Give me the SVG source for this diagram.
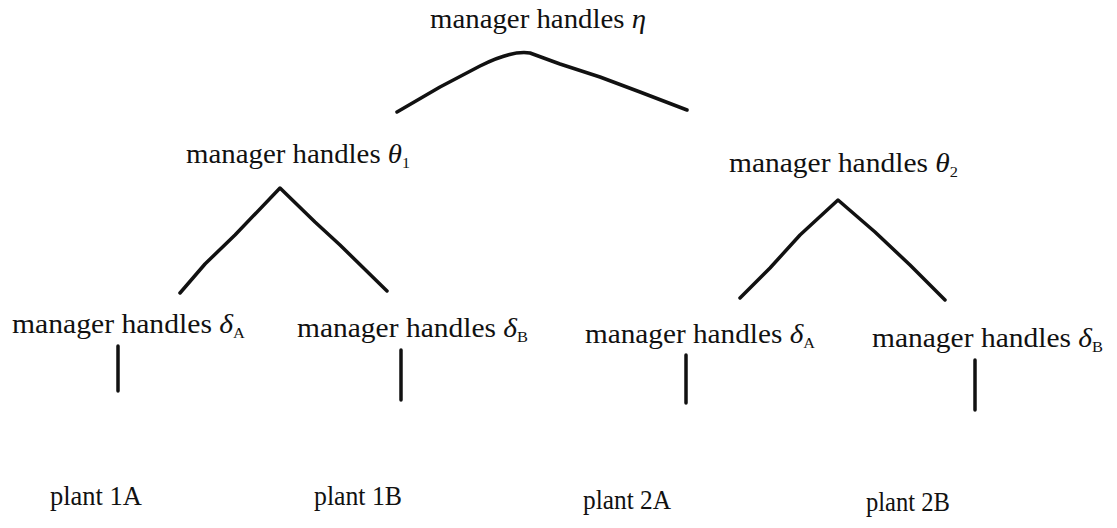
<svg xmlns="http://www.w3.org/2000/svg" width="1117" height="528" viewBox="0 0 1117 528">
  <style>
    .lbl { font-family: "Liberation Serif", "Times New Roman", serif; font-size: 27px; fill: #111; }
    .plant { font-family: "Liberation Serif", "Times New Roman", serif; font-size: 27px; fill: #111; }
    .gr { font-style: italic; }
    .sub { font-size: 15px; }
    .edge { fill: none; stroke: #111; stroke-width: 3.5; stroke-linecap: round; stroke-linejoin: round; }
  </style>
  <rect width="1117" height="528" fill="#fff"/>

  <!-- tree connectors -->
  <g id="connectors">
    <path class="edge" d="M397,112 L440,87 L480,66 Q512,50 530,53 L560,64 L600,77 L640,92 L687,110"/>
    <polyline class="edge" points="180,293 205,264 235,235 280,188 315,222 340,245 387,291"/>
    <polyline class="edge" points="740,298 770,268 800,235 838,200 875,232 910,265 945,300"/>
    <line class="edge" x1="118" y1="346" x2="118" y2="391"/>
    <line class="edge" x1="401" y1="350" x2="401" y2="400"/>
    <line class="edge" x1="686" y1="355" x2="686" y2="403"/>
    <line class="edge" x1="975" y1="360" x2="975" y2="410"/>
  </g>

  <!-- top manager -->
  <g id="mgr-eta">
    <text class="lbl" x="430" y="28" textLength="216" lengthAdjust="spacingAndGlyphs">manager handles <tspan class="gr">η</tspan></text>
  </g>

  <!-- middle managers -->
  <g id="mgr-theta1">
    <text class="lbl" x="186" y="163" textLength="224" lengthAdjust="spacingAndGlyphs">manager handles <tspan class="gr">θ</tspan><tspan class="sub" dy="5">1</tspan></text>
  </g>
  <g id="mgr-theta2">
    <text class="lbl" x="729" y="172" textLength="229" lengthAdjust="spacingAndGlyphs">manager handles <tspan class="gr">θ</tspan><tspan class="sub" dy="5">2</tspan></text>
  </g>

  <!-- lower managers -->
  <g id="mgr-1A">
    <text class="lbl" x="12" y="333" textLength="233" lengthAdjust="spacingAndGlyphs">manager handles <tspan class="gr">δ</tspan><tspan class="sub" dy="5">A</tspan></text>
  </g>
  <g id="mgr-1B">
    <text class="lbl" x="297" y="337" textLength="231" lengthAdjust="spacingAndGlyphs">manager handles <tspan class="gr">δ</tspan><tspan class="sub" dy="5">B</tspan></text>
  </g>
  <g id="mgr-2A">
    <text class="lbl" x="585" y="343" textLength="230" lengthAdjust="spacingAndGlyphs">manager handles <tspan class="gr">δ</tspan><tspan class="sub" dy="5">A</tspan></text>
  </g>
  <g id="mgr-2B">
    <text class="lbl" x="872" y="347" textLength="231" lengthAdjust="spacingAndGlyphs">manager handles <tspan class="gr">δ</tspan><tspan class="sub" dy="5">B</tspan></text>
  </g>

  <!-- plants -->
  <g id="plant-1A"><text class="plant" x="50" y="505" textLength="92" lengthAdjust="spacingAndGlyphs">plant 1A</text></g>
  <g id="plant-1B"><text class="plant" x="314" y="505" textLength="88" lengthAdjust="spacingAndGlyphs">plant 1B</text></g>
  <g id="plant-2A"><text class="plant" x="583" y="509" textLength="88" lengthAdjust="spacingAndGlyphs">plant 2A</text></g>
  <g id="plant-2B"><text class="plant" x="866" y="511" textLength="84" lengthAdjust="spacingAndGlyphs">plant 2B</text></g>
</svg>
